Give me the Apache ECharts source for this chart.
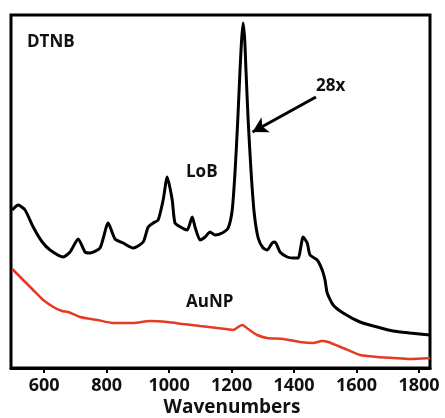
<!DOCTYPE html>
<html>
<head>
<meta charset="utf-8">
<script src="https://cdn.jsdelivr.net/npm/echarts@6/dist/echarts.min.js"></script>
<style>
html,body{margin:0;padding:0;background:#fff;}
#chart{width:445px;height:418px;}
</style>
</head>
<body>
<div id="chart"></div>
<script>
// Wavenumbers (cm^-1) and intensities (arbitrary units)
const lobWave = [498,517,539,565,594,619,661,683,709,731,747,779,805,827,853,885,917,933,949,965,981,994,1010,1019,1042,1058,1074,1083,1099,1115,1131,1147,1170,1189,1202,1211,1219,1227,1232,1237,1242,1246,1253,1262,1272,1285,1301,1314,1330,1339,1355,1378,1397,1413,1429,1442,1451,1474,1490,1499,1506,1525,1557,1611,1666,1717,1771,1835];
const lobInt  = [158,163,158,141,126,118,111,116,129,116,115,120,145,129,125,120,126,141,145,148,168,191,168,145,140,138,151,141,128,131,136,133,135,140,158,196,243,298,328,345,328,298,248,198,156,130,120,118,125,126,116,111,110,110,131,125,113,108,98,88,75,63,55,46,41,37,35,33];
const aunpWave = [498,533,565,597,635,658,677,715,770,821,885,939,994,1045,1099,1154,1205,1221,1234,1253,1282,1314,1365,1419,1461,1490,1509,1557,1611,1666,1717,1771,1835];
const aunpInt  = [99,88,78,68,60,57,56,51,48,45,45,47,46,44,42,40,38,41,43,39,33,30,29,26,25,27,26,20,13,11,10,9,10];
const xTicks = [600,800,1000,1200,1400,1600,1800];
const arrowFrom = [1470,271];
const arrowTo = [1267,236];

const zip = (a,b) => a.map((v,i)=>[v,b[i]]);
const FONT = '"Open Sans", "Liberation Sans", sans-serif';

const chart = echarts.init(document.getElementById('chart'), null, {renderer:'canvas'});
chart.setOption({
  animation:false,
  backgroundColor:'#fff',
  grid:{left:11,right:15,top:15,bottom:50,show:true,borderColor:'#000',borderWidth:3,containLabel:false,outerBoundsMode:'none'},
  xAxis:{
    type:'value',min:494,max:1835,
    axisLine:{show:true,lineStyle:{color:'#000',width:3}},
    axisTick:{show:true,inside:false,length:5,lineStyle:{color:'#000',width:2},customValues:xTicks},
    axisLabel:{show:true,margin:9,fontFamily:FONT,fontWeight:'bold',fontSize:18,color:'#111',customValues:xTicks,
      formatter:v=>String(v)},
    splitLine:{show:false}
  },
  yAxis:{
    type:'value',min:0,max:353,
    axisLine:{show:false},axisTick:{show:false},axisLabel:{show:false},splitLine:{show:false}
  },
  series:[
    {type:'line',name:'LoB',data:zip(lobWave,lobInt),showSymbol:false,symbol:'none',smooth:0.2,
     lineStyle:{color:'#000',width:3},z:3,
     markLine:{silent:true,symbol:['none','arrow'],symbolSize:[13,15],label:{show:false},
       lineStyle:{color:'#000',width:3,type:'solid'},
       data:[[{coord:arrowFrom},{coord:arrowTo}]]}
    },
    {type:'line',name:'AuNP',data:zip(aunpWave,aunpInt),showSymbol:false,symbol:'none',smooth:0.2,
     lineStyle:{color:'#e33b24',width:2.5},z:2}
  ],
  graphic:[
    {type:'text',left:27,top:34,style:{text:'DTNB',font:'bold 17px '+FONT,fill:'#111'}},
    {type:'text',left:316,top:78,style:{text:'28x',font:'bold 17px '+FONT,fill:'#111'}},
    {type:'text',left:186,top:164,style:{text:'LoB',font:'bold 17px '+FONT,fill:'#111'}},
    {type:'text',left:186,top:294,style:{text:'AuNP',font:'bold 17px '+FONT,fill:'#111'}},
    {type:'text',x:232,y:408,style:{text:'Wavenumbers',font:'bold 19px '+FONT,fill:'#111',textAlign:'center',textVerticalAlign:'middle'}}
  ]
});
</script>
</body>
</html>
